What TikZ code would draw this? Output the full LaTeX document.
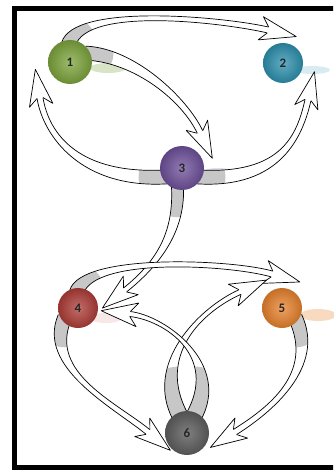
\documentclass[tikz,border=0pt]{standalone}
\usepackage{fontspec}
\setmainfont{Carlito}
\usetikzlibrary{calc}
\pgfdeclarelayer{bg}
\pgfdeclarelayer{fg}
\pgfsetlayers{bg,main,fg}
\definecolor{c1}{RGB}{125,165,60}
\definecolor{c2}{RGB}{45,145,175}
\definecolor{c3}{RGB}{110,80,155}
\definecolor{c4}{RGB}{175,60,55}
\definecolor{c5}{RGB}{232,130,45}
\definecolor{c6}{RGB}{95,95,95}
\tikzset{
  ball/.style={circle, inner sep=0pt, font=\bfseries\fontsize{13}{13}\selectfont, text=black!85},
  edge/.style={draw=black, line width=0.7pt, line join=round},
  rib/.style={fill=black!22},
  frame/.style={line width=5pt, line join=miter}
}
\newcommand\arrHW{14pt}
\newcommand\arrHL{29pt}
% #1 id, #2 start, #3 control 1, #4 control 2, #5 neck, #6 base half width, #7 neck half width, #8 grey radius
\newcommand\barrow[8]{%
  \coordinate (#1-0) at #2;
  \coordinate (#1-1) at #3;
  \coordinate (#1-2) at #4;
  \coordinate (#1-3) at #5;
  \coordinate (#1-L0) at ($(#1-0)!#6!90:(#1-1)$);
  \coordinate (#1-R0) at ($(#1-0)!#6!-90:(#1-1)$);
  \coordinate (#1-L1) at ($(#1-1)!#6!-90:(#1-0)$);
  \coordinate (#1-R1) at ($(#1-1)!#6!90:(#1-0)$);
  \coordinate (#1-L2) at ($(#1-2)!#7!90:(#1-3)$);
  \coordinate (#1-R2) at ($(#1-2)!#7!-90:(#1-3)$);
  \coordinate (#1-L3) at ($(#1-3)!#7!-90:(#1-2)$);
  \coordinate (#1-R3) at ($(#1-3)!#7!90:(#1-2)$);
  \coordinate (#1-HL) at ($(#1-3)!\arrHW!-58:(#1-2)$);
  \coordinate (#1-HR) at ($(#1-3)!\arrHW!58:(#1-2)$);
  \coordinate (#1-T) at ($(#1-3)!-\arrHL!(#1-2)$);
  \begin{pgfonlayer}{bg}
    \fill[white] (#1-L0) .. controls (#1-L1) and (#1-L2) .. (#1-L3) -- (#1-R3) .. controls (#1-R2) and (#1-R1) .. (#1-R0) -- cycle;
    \begin{scope}
      \clip (#1-L0) .. controls (#1-L1) and (#1-L2) .. (#1-L3) -- (#1-R3) .. controls (#1-R2) and (#1-R1) .. (#1-R0) -- cycle;
      \fill[rib] (#1-0) circle (#8);
    \end{scope}
    \draw[edge] (#1-L0) .. controls (#1-L1) and (#1-L2) .. (#1-L3);
    \draw[edge] (#1-R0) .. controls (#1-R1) and (#1-R2) .. (#1-R3);
  \end{pgfonlayer}
  \begin{pgfonlayer}{fg}
    \filldraw[edge, fill=white] (#1-L3) -- (#1-HL) -- (#1-T) -- (#1-HR) -- (#1-R3);
  \end{pgfonlayer}
}
\begin{document}
\begin{tikzpicture}[x=1pt,y=-1pt]
\useasboundingbox (0,0) rectangle (333,470);
\begin{scope}
  \clip (0,0) rectangle (333,470);
  \draw[frame] (345,8.5) -- (14.5,8.5) -- (14.5,467.5) -- (345,467.5);
\end{scope}

% balls
\node[ball, minimum size=44pt, inner color=c1!75!white, outer color=c1!85!black] (n1) at (70,62) {1};
\node[ball, minimum size=40pt, inner color=c2!75!white, outer color=c2!85!black] (n2) at (283,63) {2};
\node[ball, minimum size=44pt, inner color=c3!75!white, outer color=c3!85!black] (n3) at (182,168) {3};
\node[ball, minimum size=40pt, inner color=c4!75!white, outer color=c4!85!black] (n4) at (78,308) {4};
\node[ball, minimum size=40pt, inner color=c5!75!white, outer color=c5!85!black] (n5) at (282,308) {5};
\node[ball, minimum size=44pt, inner color=c6!80!white, outer color=c6!85!black] (n6) at (187,433) {6};

% soft shadows
\begin{pgfonlayer}{bg}
  \fill[c1!30] (108,68) ellipse (18 and 5);
  \fill[c2!18] (312,70) ellipse (18 and 4);
  \fill[c3!20] (218,173) ellipse (16 and 5);
  \fill[c4!12] (106,318) ellipse (16 and 5);
  \fill[c5!30] (318,315) ellipse (18 and 6);
\end{pgfonlayer}

% top triangle
\barrow{a1}{($(n1)!0.8!(n1.95)$)}{(80,4)}{(225,20)}{($(n2)+(-15,-33)$)}{7pt}{3pt}{28pt}
\barrow{a2}{($(n1)!0.8!(n1.30)$)}{(135,55)}{(185,100)}{($(n3)+(18,-36)$)}{7pt}{3pt}{28pt}
\barrow{a3}{($(n3)!0.8!(n3.210)$)}{(80,182)}{(46,135)}{($(n1)+(-30,36)$)}{7pt}{3pt}{28pt}
\barrow{a4}{($(n3)!0.8!(n3.-30)$)}{(282,182)}{(300,135)}{($(n2)+(25,37)$)}{7pt}{3pt}{28pt}
\barrow{a5}{($(n3)!0.8!(n3.255)$)}{(180,230)}{(160,262)}{($(n4)+(47,-18)$)}{6pt}{2.5pt}{32pt}

% bottom triangle
\barrow{b1}{($(n4)!0.8!(n4.95)$)}{(88,255)}{(230,262)}{($(n5)+(-10,-34)$)}{7pt}{3pt}{28pt}
\barrow{b2}{($(n6)!0.8!(n6.112)$)}{(150,360)}{(200,310)}{($(n5)+(-42,-16)$)}{8pt}{2.5pt}{50pt}
\barrow{b3}{($(n6)!0.8!(n6.68)$)}{(225,360)}{(165,318)}{($(n4)+(52,6)$)}{8pt}{2.5pt}{50pt}
\barrow{b4}{($(n4)!0.8!(n4.215)$)}{(42,370)}{(115,405)}{($(n6)+(-39,-1)$)}{7pt}{3pt}{30pt}
\barrow{b5}{($(n5)!0.8!(n5.-35)$)}{(320,370)}{(270,410)}{($(n6)+(48,-1)$)}{7pt}{3pt}{30pt}
\end{tikzpicture}
\end{document}
